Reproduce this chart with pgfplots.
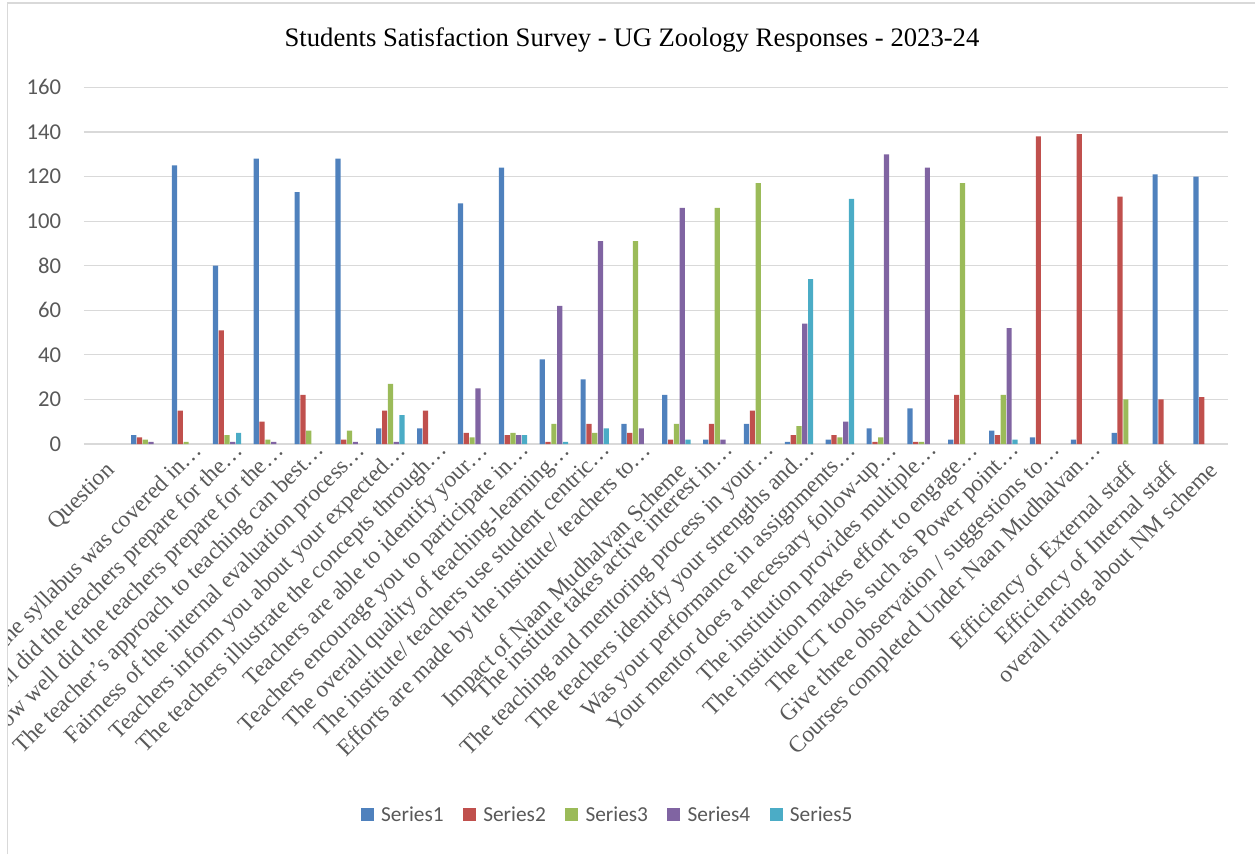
\documentclass[border=0pt]{standalone}
\usepackage{fontspec}
\setmainfont{Liberation Serif}
\newfontfamily\calibri{Carlito}
\usepackage{pgfplots}
\pgfplotsset{compat=1.18}
\definecolor{sa}{HTML}{4F81BD}
\definecolor{sb}{HTML}{C0504D}
\definecolor{sc}{HTML}{9BBB59}
\definecolor{sd}{HTML}{8064A2}
\definecolor{se}{HTML}{4BACC6}
\definecolor{gridc}{HTML}{D9D9D9}
\definecolor{txt}{HTML}{595959}
\pgfplotsset{sqleg/.style={legend image code/.code={\fill[##1] (0pt,-4.9pt) rectangle (9.75pt,4.9pt);}}}
\begin{document}
\begin{tikzpicture}
\path[use as bounding box] (0,0) rectangle (941.25pt,640.5pt);
\begin{scope}
\clip (5.5pt,0) rectangle (941.25pt,640.5pt);
\begin{axis}[
  at={(63pt,307.5pt)}, anchor=south west,
  scale only axis, width=858pt, height=267.45pt,
  ybar=0.45pt, bar width=3.9pt,
  xmin=-0.5, xmax=27.5, ymin=0, ymax=160,
  ytick={0,20,...,160},
  ymajorgrids, grid style={gridc, line width=0.8pt},
  axis line style={draw=none},
  major tick length=0pt,
  /pgf/number format/assume math mode=true,
  yticklabel style={font=\calibri\fontsize{17}{20}\selectfont, text=txt, inner sep=0pt, xshift=-17pt},
  xtick={0,1,14,25,26,27},
  xticklabels={Question,{},Impact of Naan Mudhalvan Scheme,Efficiency of External staff,Efficiency of Internal staff,overall rating about NM scheme},
  xticklabel style={rotate=45, anchor=north east, inner sep=8.5pt, font=\fontsize{17.4}{20}\selectfont, text=txt},
  extra x ticks={2,3,4,5,6,7,8,9,10,11,12,13,15,16,17,18,19,20,21,22,23,24},
  extra x tick labels={How much of the syllabus was covered in…,How well did the teachers prepare for the…,How well did the teachers prepare for the…,The teacher’s approach to teaching can best…,Fairness of the internal evaluation process…,Teachers inform you about your expected…,The teachers illustrate the concepts through…,Teachers are able to identify your…,Teachers encourage you to participate in…,The overall quality of teaching-learning…,The institute/ teachers use student centric…,Efforts are made by the institute/ teachers to…,The institute takes active interest in…,The teaching and mentoring process in your…,The teachers identify your strengths and…,Was your performance in assignments…,Your mentor does a necessary follow-up…,The institution provides multiple…,The institution makes effort to engage…,The ICT tools such as Power point…,Give three observation / suggestions to…,Courses completed Under Naan Mudhalvan…},
  extra x tick style={xticklabel style={xshift=13.5pt, yshift=8pt}},
  legend columns=5,
  legend style={draw=none, at={(0.458,-1.04)}, anchor=center, font=\calibri\fontsize{16}{19}\selectfont, text=txt,
    /tikz/every odd column/.append style={column sep=3.5pt},
    /tikz/every even column/.append style={column sep=12.5pt}},
]
\addplot[fill=sa, draw=none, sqleg] coordinates {(1,4)(2,125)(3,80)(4,128)(5,113)(6,128)(7,7)(8,7)(9,108)(10,124)(11,38)(12,29)(13,9)(14,22)(15,2)(16,9)(17,1)(18,2)(19,7)(20,16)(21,2)(22,6)(23,3)(24,2)(25,5)(26,121)(27,120)};
\addplot[fill=sb, draw=none, sqleg] coordinates {(1,3)(2,15)(3,51)(4,10)(5,22)(6,2)(7,15)(8,15)(9,5)(10,4)(11,1)(12,9)(13,5)(14,2)(15,9)(16,15)(17,4)(18,4)(19,1)(20,1)(21,22)(22,4)(23,138)(24,139)(25,111)(26,20)(27,21)};
\addplot[fill=sc, draw=none, sqleg] coordinates {(1,2)(2,1)(3,4)(4,2)(5,6)(6,6)(7,27)(9,3)(10,5)(11,9)(12,5)(13,91)(14,9)(15,106)(16,117)(17,8)(18,3)(19,3)(20,1)(21,117)(22,22)(25,20)};
\addplot[fill=sd, draw=none, sqleg] coordinates {(1,1)(3,1)(4,1)(6,1)(7,1)(9,25)(10,4)(11,62)(12,91)(13,7)(14,106)(15,2)(17,54)(18,10)(19,130)(20,124)(22,52)};
\addplot[fill=se, draw=none, sqleg] coordinates {(3,5)(7,13)(10,4)(11,1)(12,7)(14,2)(17,74)(18,110)(22,2)};
\legend{Series1,Series2,Series3,Series4,Series5}
\end{axis}
\end{scope}
\draw[gridc, line width=1.1pt] (5.5pt,0) -- (5.5pt,638.25pt) -- (941.25pt,638.25pt);
\node[font=\fontsize{20}{24}\selectfont] at (474pt,610.5pt) {Students Satisfaction Survey - UG Zoology Responses - 2023-24};
\end{tikzpicture}
\end{document}
